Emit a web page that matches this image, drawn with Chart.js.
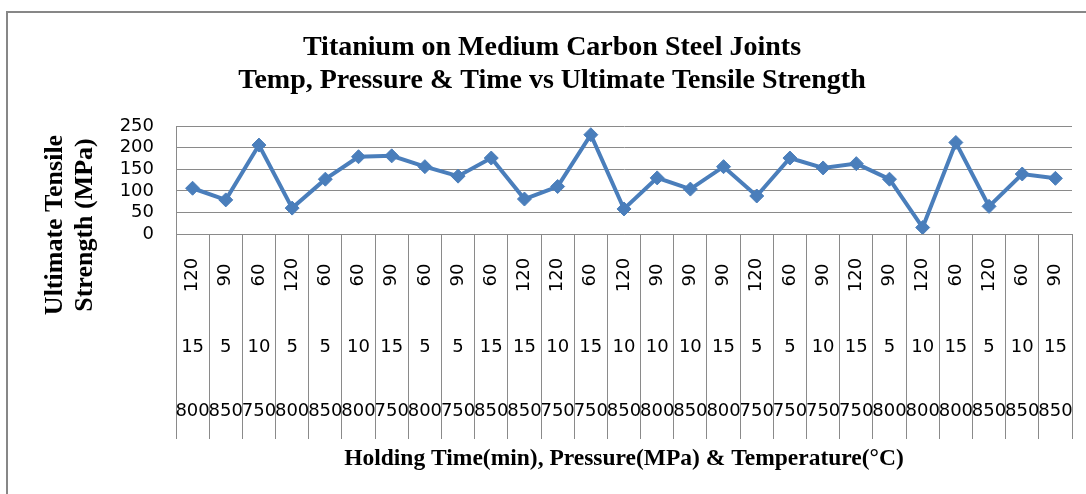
<!DOCTYPE html>
<html>
<head>
<meta charset="utf-8">
<style>
html, body { margin: 0; padding: 0; background: #fff; overflow: hidden; }
#frame { position: absolute; left: 6px; top: 11px; width: 1200px; height: 600px; border: 2px solid #878787; }
#wrap { position: absolute; left: 0; top: 0; width: 1086px; height: 494px; }
</style>
<script src="https://cdn.jsdelivr.net/npm/chart.js"></script>
</head>
<body>
<div id="frame"></div>
<div id="wrap"><canvas id="chart" width="1086" height="494"></canvas></div>
<script>
'use strict';

// holding time (min), pressure (MPa), temperature (°C) per joint
const times = ['120', '90', '60', '120', '60', '60', '90', '60', '90', '60', '120', '120', '60', '120',
  '90', '90', '90', '120', '60', '90', '120', '90', '120', '60', '120', '60', '90'];
const pressures = ['15', '5', '10', '5', '5', '10', '15', '5', '5', '15', '15', '10', '15', '10',
  '10', '10', '15', '5', '5', '10', '15', '5', '10', '15', '5', '10', '15'];
const temps = ['800', '850', '750', '800', '850', '800', '750', '800', '750', '850', '850', '750', '750', '850',
  '800', '850', '800', '750', '750', '750', '750', '800', '800', '800', '850', '850', '850'];
const uts = [106, 79, 206, 60, 127, 179, 181, 156, 134, 176, 81, 110, 230, 58,
  130, 104, 156, 88, 176, 153, 163, 127, 15, 212, 64, 139, 129];
const yTicks = [0, 50, 100, 150, 200, 250];

const chartTitle = ['Titanium on Medium Carbon Steel Joints', 'Temp, Pressure & Time vs Ultimate Tensile Strength'];
const yTitle = ['Ultimate Tensile', 'Strength (MPa)'];
const xTitle = 'Holding Time(min), Pressure(MPa) & Temperature(°C)';

const gridGrey = '#8a8a8a';
const blue = '#4a7ebb';

Chart.defaults.font.family = '"DejaVu Sans"';
Chart.defaults.color = '#000';

// the three rows of category text under the axis
const catLabels = {
  id: 'catLabels',
  afterDraw: function(chart) {
    const ctx = chart.ctx;
    const xs = chart.scales.x;
    const base = chart.chartArea.bottom;
    ctx.save();
    ctx.fillStyle = '#000';
    ctx.font = '18px "DejaVu Sans"';
    ctx.textAlign = 'center';
    ctx.textBaseline = 'middle';
    for (let i = 0; i < times.length; i++) {
      const px = xs.getPixelForValue(i);
      ctx.save();
      ctx.translate(px, base + 41);
      ctx.rotate(-Math.PI / 2);
      ctx.fillText(times[i], 0, 0);
      ctx.restore();
      ctx.fillText(pressures[i], px, base + 113);
      ctx.fillText(temps[i], px, base + 177);
    }
    ctx.restore();
  }
};

// two-line rotated y axis title
const yTitlePlugin = {
  id: 'yTitlePlugin',
  afterDraw: function(chart) {
    const ctx = chart.ctx;
    ctx.save();
    ctx.fillStyle = '#000';
    ctx.font = 'bold 26px "Liberation Serif"';
    ctx.textAlign = 'center';
    ctx.textBaseline = 'alphabetic';
    yTitle.forEach(function(t, i) {
      ctx.save();
      ctx.translate(62 + i * 30, 225);
      ctx.rotate(-Math.PI / 2);
      ctx.fillText(t, 0, 0);
      ctx.restore();
    });
    ctx.restore();
  }
};

new Chart(document.getElementById('chart'), {
  type: 'line',
  data: {
    labels: times.map(function(t, i) { return [t, pressures[i], temps[i]]; }),
    datasets: [{
      data: uts,
      borderColor: blue,
      backgroundColor: blue,
      borderWidth: 4,
      tension: 0,
      pointStyle: 'rectRot',
      pointRadius: 7,
      pointBorderWidth: 1,
      pointBackgroundColor: blue,
      pointBorderColor: blue
    }]
  },
  options: {
    responsive: false,
    animation: false,
    layout: { padding: { left: 32, right: 14, top: 0, bottom: 15 } },
    plugins: {
      legend: { display: false },
      tooltip: { enabled: false },
      title: {
        display: true,
        text: chartTitle,
        color: '#000',
        font: { family: '"Liberation Serif"', size: 28, weight: 'bold', lineHeight: 1.18 },
        padding: { top: 31.5, bottom: 28.5 }
      }
    },
    scales: {
      x: {
        offset: true,
        grid: { offset: true, drawOnChartArea: false, tickLength: 205, color: gridGrey },
        border: { color: gridGrey },
        ticks: { display: false },
        title: {
          display: true,
          text: xTitle,
          color: '#000',
          font: { family: '"Liberation Serif"', size: 23.5, weight: 'bold', lineHeight: 1.2 },
          padding: { top: 5.9, bottom: 5.9 }
        }
      },
      y: {
        min: 0,
        max: 250,
        afterBuildTicks: function(s) { s.ticks = yTicks.map(function(v) { return { value: v }; }); },
        afterFit: function(s) { s.width = 144; },
        ticks: { padding: 22, color: '#000', autoSkip: false, font: { size: 18 } },
        grid: { color: gridGrey, drawTicks: false },
        border: { color: gridGrey }
      }
    }
  },
  plugins: [catLabels, yTitlePlugin]
});
</script>
</body>
</html>
